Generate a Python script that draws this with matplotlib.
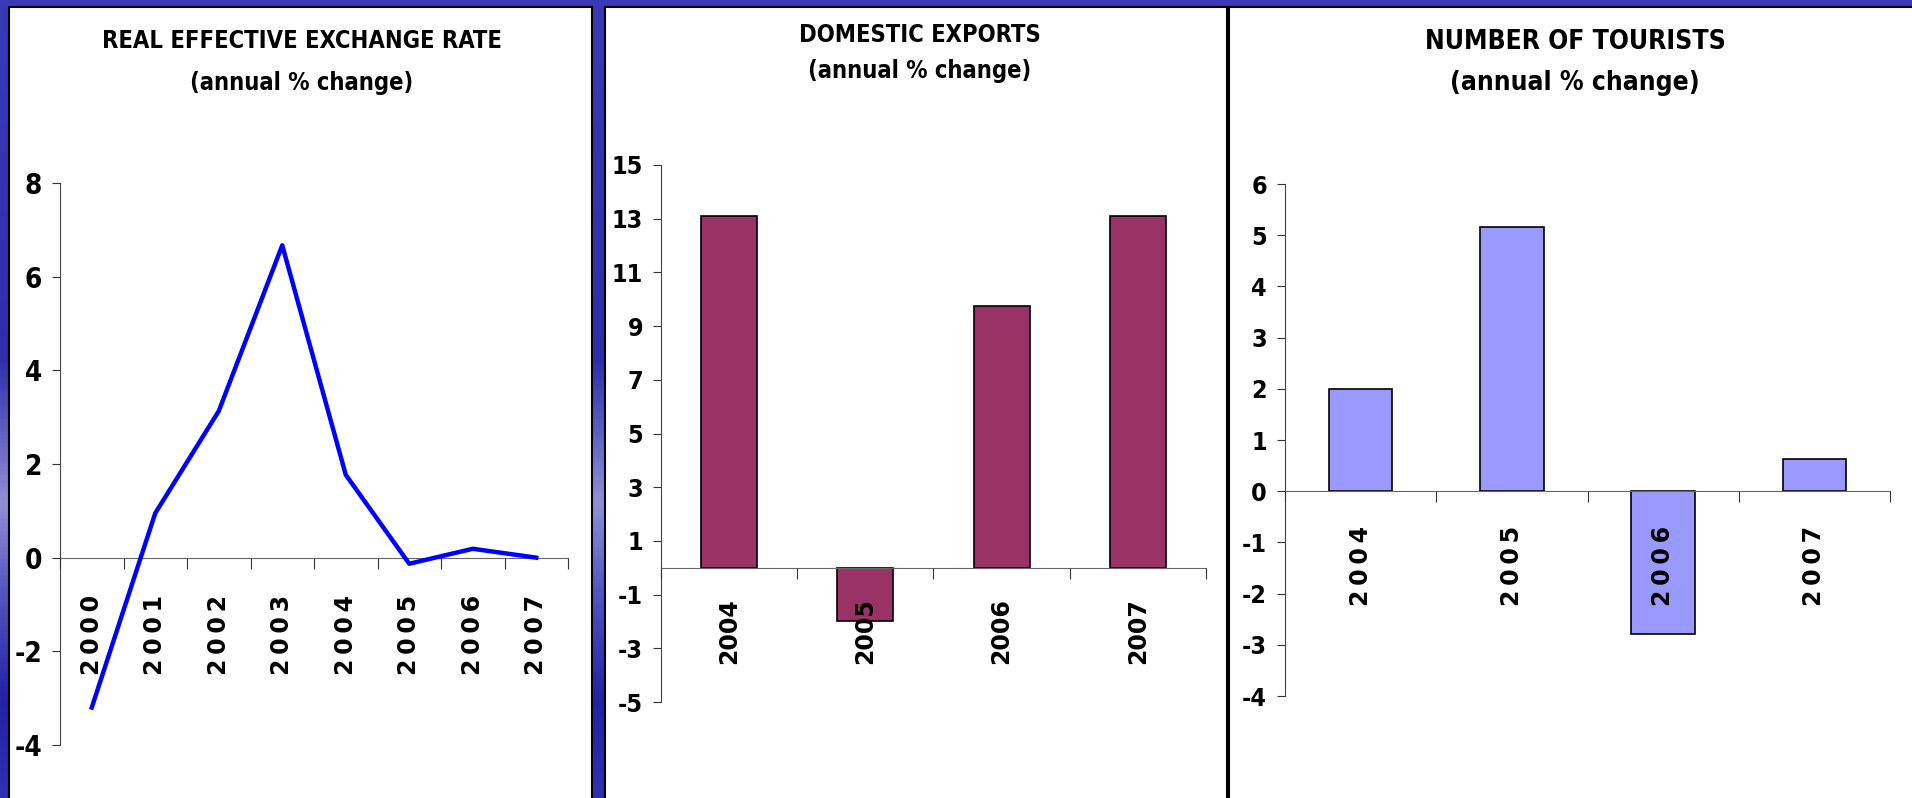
import os
import numpy as np
import matplotlib
matplotlib.use("Agg")
import matplotlib.pyplot as plt
from matplotlib.patches import Rectangle
from matplotlib.colors import LinearSegmentedColormap
from matplotlib import font_manager
from matplotlib.font_manager import FontProperties

# ---- data ----
reer_years = ["2000", "2001", "2002", "2003", "2004", "2005", "2006", "2007"]
reer_vals = [-3.2, 0.95, 3.13, 6.67, 1.77, -0.13, 0.19, 0.0]

exp_years = ["2004", "2005", "2006", "2007"]
exp_vals = [13.1, -2.0, 9.75, 13.1]

tour_years = ["2004", "2005", "2006", "2007"]
tour_vals = [2.0, 5.16, -2.79, 0.62]

W, H = 1912, 798
plt.rcParams["axes.unicode_minus"] = False

# look for a narrow bold face (titles / y ticks look condensed in the original)
files = [f.fname for f in font_manager.fontManager.ttflist]
narrow_file = None
for pat in ["LiberationSansNarrow-Bold.", "DejaVuSansCondensed-Bold.",
            "RobotoCondensed-Bold.", "Roboto_Condensed-Bold.", "OpenSansCondensed-Bold.",
            "OpenSans_Condensed-Bold.", "Roboto-Bold.", "LiberationSans-Bold."]:
    hits = [f for f in files if os.path.basename(f).startswith(pat)]
    if hits:
        narrow_file = hits[0]
        break


def nfont(size):
    if narrow_file:
        return FontProperties(fname=narrow_file, size=size)
    return FontProperties(family="DejaVu Sans", weight="bold", size=size)


wide = "DejaVu Sans"

fig = plt.figure(figsize=(W / 100, H / 100), dpi=100)

# blue background with soft vertical gradient
bg = fig.add_axes([0, 0, 1, 1], zorder=-5)
cmap = LinearSegmentedColormap.from_list("bg", [
    (0.0, "#3a3ab8"), (0.45, "#2e2eaa"), (0.63, "#9090d8"),
    (0.74, "#5656c2"), (0.88, "#2222a4"), (1.0, "#3030b0")])
bg.imshow(np.linspace(0, 1, 200).reshape(-1, 1), aspect="auto", cmap=cmap,
          extent=[0, 1, 0, 1])
bg.set_axis_off()


def px_rect(x0, x1, ytop, ybot):
    return [x0 / W, 1 - ybot / H, (x1 - x0) / W, (ybot - ytop) / H]


# white panels
for x0, x1 in [(9, 592), (605, 1227), (1229, 1925)]:
    r = px_rect(x0, x1, 7, 820)
    fig.patches.append(Rectangle((r[0], r[1]), r[2], r[3], transform=fig.transFigure,
                                 facecolor="white", edgecolor="black", lw=1.5, zorder=-1))


def title(xc, y1, y2, text, size):
    fig.text(xc / W, 1 - y1 / H, text, ha="center", va="baseline",
             fontproperties=nfont(size))
    fig.text(xc / W, 1 - y2 / H, "(annual % change)", ha="center", va="baseline",
             fontproperties=nfont(size))


def style(ax, n, labels, ylim, yticks, ysize, xsize, xpad):
    ax.set_facecolor("none")
    ax.set_axisbelow(False)  # year labels sit on top of the bars
    ax.set_xlim(-0.5, n - 0.5)
    ax.set_ylim(*ylim)
    ax.set_yticks(yticks)
    for s in ["top", "right"]:
        ax.spines[s].set_visible(False)
    ax.spines["bottom"].set_position(("data", 0))
    ax.spines["bottom"].set_color("#666666")
    ax.spines["left"].set_color("#444444")
    ax.set_xticks(np.arange(n + 1) - 0.5)
    ax.set_xticklabels([])
    ax.set_xticks(np.arange(n), minor=True)
    ax.set_xticklabels(labels, minor=True, rotation=90, family=wide,
                       weight="bold", fontsize=xsize)
    ax.tick_params(axis="x", which="major", direction="out", length=8, color="#333333")
    ax.tick_params(axis="x", which="minor", length=0, pad=xpad)
    ax.tick_params(axis="y", direction="out", length=6, pad=7, color="#333333")
    for t in ax.get_yticklabels():
        t.set_fontproperties(nfont(ysize))


# panel 1: real effective exchange rate
title(302, 48, 90, "REAL EFFECTIVE EXCHANGE RATE", 17)
ax1 = fig.add_axes(px_rect(60, 568, 183, 745))
ax1.plot(np.arange(len(reer_vals)), reer_vals, color="#0000FF", lw=3.2, zorder=3)
style(ax1, len(reer_years), ["\u2009".join(y) for y in reer_years], (-4, 8),
      np.arange(-4, 9, 2), 20, 17, 27)

# panel 2: domestic exports
title(920, 42, 78, "DOMESTIC EXPORTS", 17)
ax2 = fig.add_axes(px_rect(661, 1206, 165, 702))
ax2.bar(np.arange(len(exp_vals)), exp_vals, width=0.41, color="#993366",
        edgecolor="black", lw=1.2, zorder=2)
style(ax2, len(exp_years), exp_years, (-5, 15), np.arange(-5, 16, 2), 18, 17, 22)

# panel 3: number of tourists
title(1575, 49, 90, "NUMBER OF TOURISTS", 19)
ax3 = fig.add_axes(px_rect(1285, 1890, 184, 696))
ax3.bar(np.arange(len(tour_vals)), tour_vals, width=0.42, color="#9999FF",
        edgecolor="black", lw=1.2, zorder=2)
style(ax3, len(tour_years), ["\u2009".join(y) for y in tour_years], (-4, 6),
      np.arange(-4, 7, 1), 18, 17, 25)

fig.savefig("out.png", dpi=100)
